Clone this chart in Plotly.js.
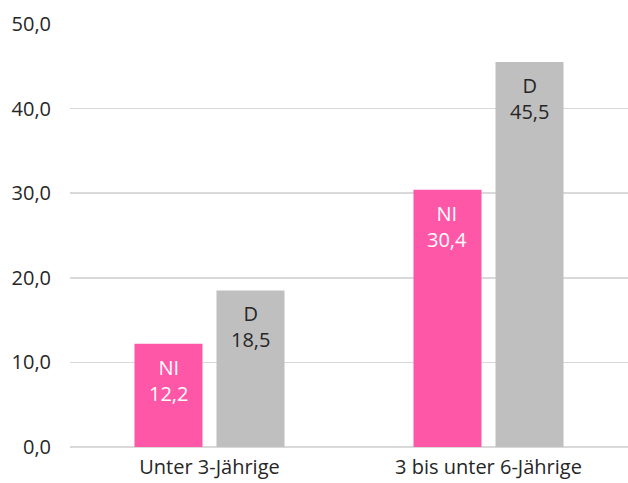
<!DOCTYPE html>
<html>
<head>
<meta charset="utf-8">
<script src="https://cdn.plot.ly/plotly-3.0.1.min.js"></script>
<style>html,body{margin:0;padding:0;background:#fff;}#chart{width:628px;height:483px;}</style>
</head>
<body>
<div id="chart"></div>
<script>
const categories = ["Unter 3-Jährige", "3 bis unter 6-Jährige"];
const seriesNames = ["NI", "D"];
const valuesNI = [12.2, 30.4];
const valuesD = [18.5, 45.5];
const yTickValues = [0, 10, 20, 30, 40, 50];

const fmt = v => v.toFixed(1).replace('.', ',');
const font = "Open Sans, Noto Sans, sans-serif";
const FS = 20;

const BARGAP = 0.412, GROUPGAP = 0.171;
const slot = (1 - BARGAP) / 2;           // width of one bar slot in category units
const offs = [-slot / 2, slot / 2];

const traces = [
  {
    type: 'bar', name: seriesNames[0], x: categories, y: valuesNI,
    marker: {color: '#FF57A8'}, textposition: 'none', hoverinfo: 'none'
  },
  {
    type: 'bar', name: seriesNames[1], x: categories, y: valuesD,
    marker: {color: '#BFBFBF'}, textposition: 'none', hoverinfo: 'none'
  }
];

const labelColors = ['#ffffff', '#262626'];
const annotations = [];
[valuesNI, valuesD].forEach((vals, s) => {
  vals.forEach((v, i) => {
    annotations.push({
      xref: 'x', yref: 'y', x: i + offs[s], y: v,
      text: seriesNames[s] + '<br>' + fmt(v),
      showarrow: false, yanchor: 'top', xanchor: 'center', yshift: -8,
      font: {family: font, size: FS, color: labelColors[s]}
    });
  });
});

const layout = {
  width: 628, height: 483,
  margin: {l: 70, r: 0, t: 24, b: 36},
  paper_bgcolor: '#ffffff', plot_bgcolor: '#ffffff',
  showlegend: false,
  barmode: 'group', bargap: BARGAP, bargroupgap: GROUPGAP,
  separators: ',.',
  font: {family: font, size: FS, color: '#262626'},
  annotations: annotations,
  xaxis: {
    type: 'category', showgrid: false, zeroline: false, showline: false,
    ticks: '', tickfont: {size: FS, color: '#262626'}, ticklabelstandoff: 6
  },
  yaxis: {
    range: [0, 50], tickvals: yTickValues, ticktext: yTickValues.map(fmt),
    showgrid: true, gridcolor: '#D9D9D9', gridwidth: 1.5,
    zeroline: true, zerolinecolor: '#D9D9D9', zerolinewidth: 1.5,
    showline: false, ticks: '', tickfont: {size: FS, color: '#262626'},
    ticklabelstandoff: 18
  }
};

Plotly.newPlot('chart', traces, layout, {displayModeBar: false, staticPlot: true});
</script>
</body>
</html>
